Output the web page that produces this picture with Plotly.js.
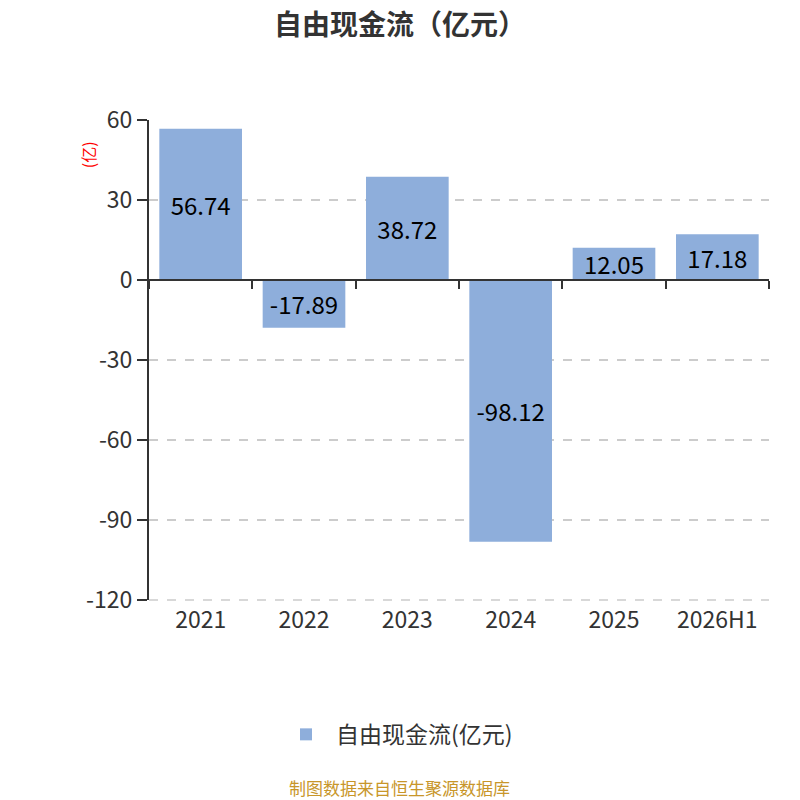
<!DOCTYPE html>
<html>
<head>
<meta charset="utf-8">
<script src="https://cdn.plot.ly/plotly-3.0.1.min.js"></script>
<style>
  html, body { margin: 0; padding: 0; background: #fff; }
  #chart { width: 800px; height: 800px; }
</style>
</head>
<body>
<div id="chart"></div>
<script>
// 自由现金流 bar chart
const years = ['2021', '2022', '2023', '2024', '2025', '2026H1'];
const fcf = [56.74, -17.89, 38.72, -98.12, 12.05, 17.18];
const yTicks = [60, 30, 0, -30, -60, -90, -120];

const FONT = '"Noto Sans CJK SC", "Noto Sans", sans-serif';
const barColor = '#8eaedb';
const gridColor = '#cccccc';

const bars = {
  type: 'bar',
  x: years, y: fcf,
  name: '自由现金流(亿元)',
  marker: { color: barColor },
  width: 0.8,
  text: fcf.map(v => v.toFixed(2)),
  textposition: 'inside',
  insidetextanchor: 'middle',
  textangle: 0,
  constraintext: 'none',
  textfont: { family: FONT, size: 24, color: '#000' },
  hoverinfo: 'x+y'
};

// invisible copy so the zero axis (x2) has something to hang on
const zeroAxisHolder = {
  type: 'bar',
  x: years, y: fcf,
  xaxis: 'x2',
  marker: { color: 'rgba(0,0,0,0)' },
  showlegend: false,
  hoverinfo: 'skip'
};

const layout = {
  width: 800, height: 800,
  margin: { l: 149, r: 31, t: 120, b: 200 },
  paper_bgcolor: 'white',
  plot_bgcolor: 'white',
  font: { family: FONT, color: '#333' },
  title: {
    text: '<b>自由现金流（亿元）</b>',
    font: { family: FONT, size: 28, color: '#333' },
    x: 0.5, xanchor: 'center',
    y: 0.968, yanchor: 'middle'
  },
  showlegend: true,
  legend: {
    orientation: 'h',
    x: 0.40, xanchor: 'center',
    y: -0.28, yanchor: 'middle',
    itemwidth: 50,
    font: { family: FONT, size: 23, color: '#333' }
  },
  bargap: 0.2,
  xaxis: {
    type: 'category',
    range: [-0.5, 5.5],
    showline: false,
    ticks: '',
    showgrid: false,
    zeroline: false,
    tickfont: { family: FONT, size: 23, color: '#333' },
    ticklabelstandoff: 4
  },
  xaxis2: {
    type: 'category',
    overlaying: 'x',
    anchor: 'free',
    position: 2 / 3,
    range: [-0.5, 5.5],
    showline: true,
    linecolor: '#333',
    linewidth: 2,
    ticks: 'outside',
    tickson: 'boundaries',
    ticklen: 8,
    tickwidth: 2,
    tickcolor: '#333',
    showticklabels: false,
    showgrid: false,
    zeroline: false
  },
  yaxis: {
    range: [-120, 60],
    tickvals: yTicks,
    ticktext: yTicks.map(String),
    showline: true,
    linecolor: '#333',
    linewidth: 2,
    ticks: 'outside',
    ticklen: 10,
    tickwidth: 2,
    tickcolor: '#333',
    showgrid: true,
    gridcolor: gridColor,
    griddash: 'dash',
    gridwidth: 1.5,
    zeroline: false,
    tickfont: { family: FONT, size: 23, color: '#333' }
  },
  // bottom gridline on the plot edge (Plotly drops it), paper-ref so it is not clipped
  shapes: [{
    type: 'line', layer: 'below',
    xref: 'paper', x0: 0, x1: 1,
    yref: 'paper', y0: 0, y1: 0,
    line: { color: gridColor, width: 1.5, dash: 'dash' }
  }],
  annotations: [
    {
      text: '(亿)',
      xref: 'paper', yref: 'paper',
      x: -0.098, y: 0.927,
      xanchor: 'center', yanchor: 'middle',
      textangle: -90,
      showarrow: false,
      font: { family: FONT, size: 16, color: '#ff0000' }
    },
    {
      text: '制图数据来自恒生聚源数据库',
      xref: 'paper', yref: 'paper',
      x: 0.404, y: -0.39,
      xanchor: 'center', yanchor: 'middle',
      showarrow: false,
      font: { family: FONT, size: 17, color: '#c8962a' }
    }
  ]
};

Plotly.newPlot('chart', [bars, zeroAxisHolder], layout, { displayModeBar: false, responsive: false });
</script>
</body>
</html>
